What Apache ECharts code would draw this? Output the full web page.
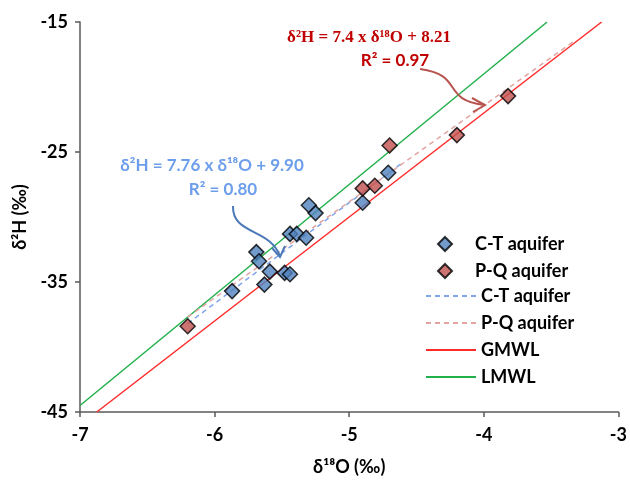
<!DOCTYPE html>
<html>
<head>
<meta charset="utf-8">
<script src="https://cdn.jsdelivr.net/npm/echarts@6/dist/echarts.min.js"></script>
<style>
  html, body { margin: 0; padding: 0; background: #fff; }
  #chart { width: 630px; height: 484px; }
</style>
</head>
<body>
<div id="chart"></div>
<script>
// δ18O / δ2H samples
const ctO = [-5.87, -5.69, -5.67, -5.63, -5.59, -5.48, -5.44, -5.44, -5.39, -5.32, -5.30, -5.25, -4.90, -4.71];
const ctH = [-35.7, -32.7, -33.4, -35.2, -34.2, -34.3, -34.4, -31.3, -31.3, -31.6, -29.1, -29.7, -28.9, -26.6];
const pqO = [-6.20, -4.90, -4.81, -4.70, -4.20, -3.82];
const pqH = [-38.4, -27.8, -27.6, -24.5, -23.7, -20.7];

// trend lines / reference lines (end points)
const ctTrendO = [-6.2, -4.6];
const ctTrendH = [-38.2, -25.8];
const pqTrendO = [-6.2, -3.32];
const pqTrendH = [-37.7, -16.4];
const gmwlO = [-6.875, -3.125];
const gmwlH = [-45, -15];
const lmwlO = [-7, -3.53];
const lmwlH = [-44.5, -15];

const xTicks = [-7, -6, -5, -4, -3];
const yTicks = [-45, -35, -25, -15];

const pairs = (xs, ys) => xs.map((x, i) => [x, ys[i]]);

const font = 'Lato, "DejaVu Sans", sans-serif';
const chart = echarts.init(document.getElementById('chart'));

const diamond = (color) => ({
  type: 'scatter',
  symbol: 'diamond',
  symbolSize: 15,
  itemStyle: { color: color, borderColor: '#000', borderWidth: 1.5 },
  z: 5
});

const legendText = { fontFamily: font, fontWeight: 'bold', fontSize: 18, color: '#000', lineHeight: 14 };

chart.setOption({
  animation: false,
  backgroundColor: '#fff',
  grid: { left: 80, right: 9, top: 22, bottom: 72 },
  xAxis: {
    type: 'value',
    min: xTicks[0], max: xTicks[xTicks.length - 1], interval: 1,
    name: 'δ¹⁸O (‰)',
    nameLocation: 'middle',
    nameGap: 46,
    nameTextStyle: { fontFamily: font, fontWeight: 'bold', fontSize: 18, color: '#000' },
    axisLine: { lineStyle: { color: '#595959', width: 1.5 } },
    axisTick: { length: 5, lineStyle: { color: '#595959', width: 1.5 } },
    axisLabel: { fontFamily: font, fontWeight: 'bold', fontSize: 18, color: '#000', margin: 14 },
    splitLine: { show: false }
  },
  yAxis: {
    type: 'value',
    min: yTicks[0], max: yTicks[yTicks.length - 1], interval: 10,
    name: 'δ²H (‰)',
    nameLocation: 'middle',
    nameGap: 30,
    nameRotate: 90,
    nameTextStyle: { fontFamily: font, fontWeight: 'bold', fontSize: 18, color: '#000' },
    axisLine: { lineStyle: { color: '#595959', width: 1.5 } },
    axisTick: { length: 5, lineStyle: { color: '#595959', width: 1.5 } },
    axisLabel: { fontFamily: font, fontWeight: 'bold', fontSize: 18, color: '#000', margin: 12 },
    splitLine: { show: false }
  },
  legend: [
    {
      orient: 'vertical',
      left: 432,
      top: 230,
      itemWidth: 14,
      itemHeight: 14,
      itemGap: 9,
      textStyle: Object.assign({ padding: [0, 0, 0, 18] }, legendText),
      data: [
        { name: 'C-T aquifer', icon: 'diamond' },
        { name: 'P-Q aquifer', icon: 'diamond' }
      ]
    },
    {
      orient: 'vertical',
      left: 420,
      top: 282,
      itemWidth: 50,
      itemHeight: 14,
      itemGap: 9,
      textStyle: legendText,
      itemStyle: { opacity: 0 },
      data: ['C-T aquifer ', 'P-Q aquifer ', 'GMWL', 'LMWL'],
      formatter: (n) => n.trim()
    }
  ],
  series: [
    {
      name: 'GMWL', type: 'line', data: pairs(gmwlO, gmwlH), showSymbol: false, symbol: 'none',
      lineStyle: { color: '#ff2a2a', width: 1.5 }, itemStyle: { color: '#ff2a2a' }, z: 2
    },
    {
      name: 'LMWL', type: 'line', data: pairs(lmwlO, lmwlH), showSymbol: false, symbol: 'none',
      lineStyle: { color: '#22b04b', width: 1.5 }, itemStyle: { color: '#22b04b' }, z: 2
    },
    {
      name: 'C-T aquifer ', type: 'line', data: pairs(ctTrendO, ctTrendH), showSymbol: false, symbol: 'none',
      lineStyle: { color: '#7fa6ea', width: 1.5, type: [5, 4] }, itemStyle: { color: '#7fa6ea' }, z: 3
    },
    {
      name: 'P-Q aquifer ', type: 'line', data: pairs(pqTrendO, pqTrendH), showSymbol: false, symbol: 'none',
      lineStyle: { color: '#e0a3a1', width: 1.5, type: [5, 4] }, itemStyle: { color: '#e0a3a1' }, z: 3
    },
    Object.assign(diamond('#4f81bd'), { name: 'C-T aquifer', data: pairs(ctO, ctH) }),
    Object.assign(diamond('#c0504d'), { name: 'P-Q aquifer', data: pairs(pqO, pqH) })
  ],
  graphic: [
    // P-Q regression label
    {
      type: 'text', style: {
        x: 369, y: 38, text: 'δ²H = 7.4 x δ¹⁸O + 8.21', align: 'center', verticalAlign: 'middle',
        font: 'bold 17px "Liberation Serif", serif', fill: '#c00000'
      }
    },
    {
      type: 'text', style: {
        x: 395, y: 61, text: 'R² = 0.97', align: 'center', verticalAlign: 'middle',
        font: 'bold 17px ' + font, fill: '#c00000'
      }
    },
    // C-T regression label
    {
      type: 'text', style: {
        x: 212, y: 166, text: 'δ²H = 7.76 x δ¹⁸O + 9.90', align: 'center', verticalAlign: 'middle',
        font: 'bold 17px ' + font, fill: '#6d9eeb'
      }
    },
    {
      type: 'text', style: {
        x: 223, y: 190, text: 'R² = 0.80', align: 'center', verticalAlign: 'middle',
        font: 'bold 17px ' + font, fill: '#6d9eeb'
      }
    },
    // curved arrows
    {
      type: 'bezierCurve', shape: { x1: 233, y1: 206, cpx1: 232, cpy1: 235, cpx2: 270, cpy2: 228, x2: 280, y2: 256 },
      style: { stroke: '#4a78b8', lineWidth: 2, fill: null }, z: 10
    },
    {
      type: 'polyline', shape: { points: [[272, 248], [280, 257], [285, 246]] },
      style: { stroke: '#4a78b8', lineWidth: 2, fill: null }, z: 10
    },
    {
      type: 'bezierCurve', shape: { x1: 420, y1: 69, cpx1: 465, cpy1: 75, cpx2: 440, cpy2: 100, x2: 485, y2: 105 },
      style: { stroke: '#b85450', lineWidth: 2, fill: null }, z: 10
    },
    {
      type: 'polyline', shape: { points: [[472, 98], [485, 105], [473, 112]] },
      style: { stroke: '#b85450', lineWidth: 2, fill: null }, z: 10
    }
  ]
});
</script>
</body>
</html>
